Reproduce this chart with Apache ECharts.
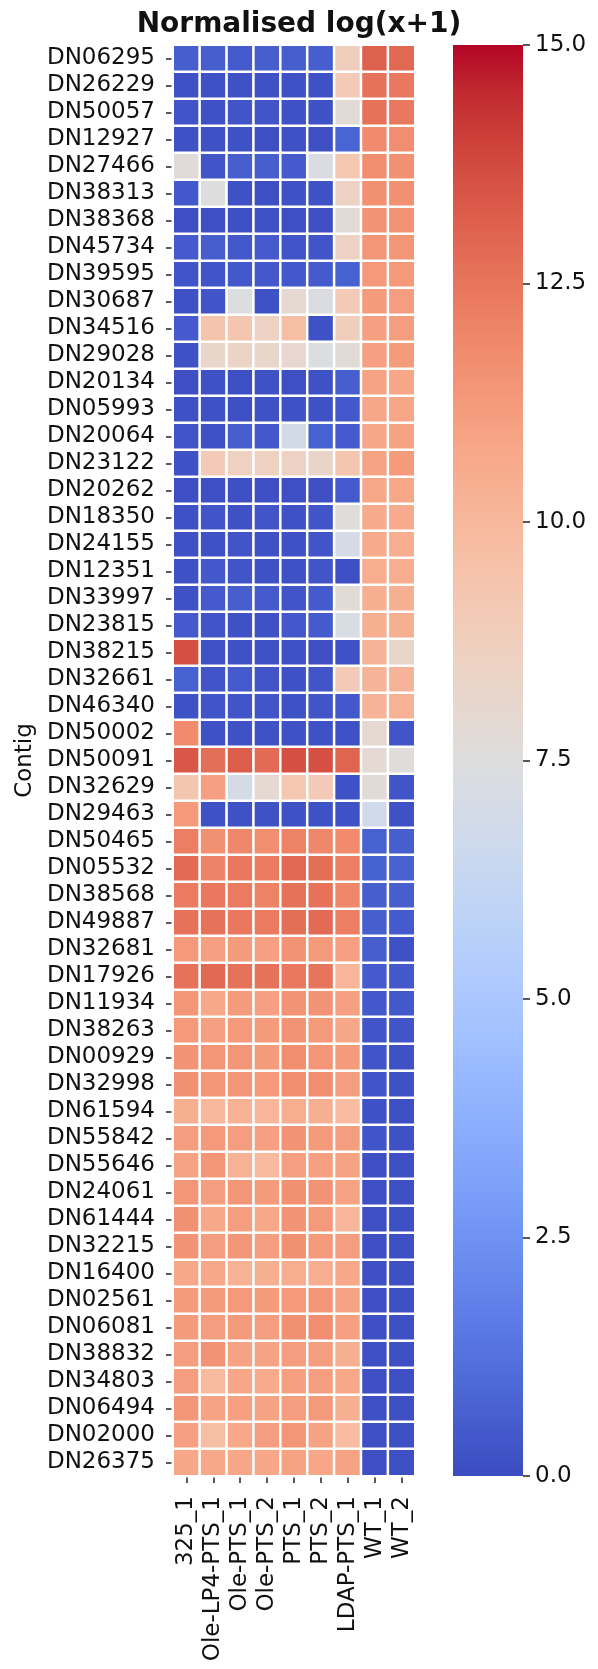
<!DOCTYPE html>
<html><head><meta charset="utf-8">
<script src="https://cdn.jsdelivr.net/npm/echarts@6/dist/echarts.min.js"></script>
<style>html,body{margin:0;padding:0;background:#fff}#chart{width:598px;height:1669px}</style>
</head><body><div id="chart"></div>
<script>
const samples = ['325_1','Ole-LP4-PTS_1','Ole-PTS_1','Ole-PTS_2','PTS_1','PTS_2','LDAP-PTS_1','WT_1','WT_2'];
const contigs = ['DN06295','DN26229','DN50057','DN12927','DN27466','DN38313','DN38368','DN45734','DN39595','DN30687',
 'DN34516','DN29028','DN20134','DN05993','DN20064','DN23122','DN20262','DN18350','DN24155','DN12351',
 'DN33997','DN23815','DN38215','DN32661','DN46340','DN50002','DN50091','DN32629','DN29463','DN50465',
 'DN05532','DN38568','DN49887','DN32681','DN17926','DN11934','DN38263','DN00929','DN32998','DN61594',
 'DN55842','DN55646','DN24061','DN61444','DN32215','DN16400','DN02561','DN06081','DN38832','DN34803',
 'DN06494','DN02000','DN26375'];
// one row per contig, one value per sample
const logExpr = [
 [0.6,0.6,0.5,0.6,0.6,0.6,8.8,13.1,12.9],
 [0.2,0.2,0.2,0.2,0.2,0.2,9.0,12.6,12.4],
 [0.3,0.2,0.3,0.3,0.2,0.2,7.8,12.6,12.4],
 [0.2,0.2,0.2,0.1,0.2,0.1,0.8,11.8,11.7],
 [7.7,0.3,0.6,0.6,0.5,7.3,9.2,11.7,11.6],
 [0.4,7.5,0.2,0.1,0.2,0.2,8.5,11.6,11.6],
 [0.1,0.1,0.1,0.2,0.1,0.1,7.8,11.5,11.5],
 [0.5,0.6,0.4,0.5,0.3,0.3,8.5,11.4,11.4],
 [0.3,0.3,0.4,0.4,0.4,0.5,0.7,11.3,11.3],
 [0.2,0.3,7.4,0.2,8.0,7.3,9.0,11.2,11.1],
 [0.5,9.4,9.3,8.5,9.7,0.2,8.8,11.0,11.1],
 [0.2,8.2,8.4,8.2,8.1,7.4,7.8,11.0,11.2],
 [0.1,0.2,0.1,0.2,0.1,0.2,0.6,10.9,10.8],
 [0.2,0.2,0.1,0.2,0.2,0.2,0.4,10.8,10.8],
 [0.3,0.2,0.6,0.4,6.9,0.7,0.5,10.8,10.9],
 [0.2,9.0,8.6,8.6,8.5,8.3,9.3,10.9,11.2],
 [0.1,0.1,0.1,0.1,0.1,0.1,0.5,10.7,10.7],
 [0.2,0.3,0.2,0.3,0.2,0.3,7.6,10.6,10.6],
 [0.2,0.2,0.3,0.2,0.2,0.3,7.0,10.6,10.5],
 [0.2,0.4,0.3,0.2,0.2,0.3,0.1,10.5,10.5],
 [0.2,0.5,0.6,0.5,0.3,0.5,7.8,10.4,10.4],
 [0.5,0.3,0.2,0.2,0.4,0.5,7.2,10.4,10.4],
 [13.6,0.2,0.2,0.2,0.2,0.1,0.2,10.2,8.2],
 [0.7,0.3,0.5,0.3,0.2,0.3,9.0,10.2,10.2],
 [0.2,0.3,0.3,0.3,0.2,0.3,0.4,10.2,10.3],
 [11.8,0.2,0.2,0.2,0.2,0.2,0.2,8.0,0.3],
 [13.4,12.7,13.2,12.8,13.6,13.6,13.0,7.9,7.6],
 [9.3,11.0,7.0,8.0,9.2,9.0,0.2,7.8,0.3],
 [11.3,0.2,0.2,0.2,0.2,0.2,0.2,6.8,0.2],
 [12.2,11.6,11.9,11.7,12.1,11.9,11.8,0.7,0.6],
 [12.8,12.1,12.4,12.3,12.9,12.7,12.2,0.7,0.7],
 [12.3,12.4,12.3,12.1,12.6,12.6,11.9,0.6,0.6],
 [12.6,12.6,12.4,12.3,12.7,12.8,12.2,0.6,0.5],
 [11.3,11.0,11.2,11.0,11.5,11.3,11.0,0.6,0.2],
 [12.6,12.9,12.6,12.6,12.4,12.5,10.1,0.5,0.4],
 [11.4,10.7,11.2,11.0,11.5,11.5,11.0,0.4,0.4],
 [11.3,11.0,11.3,11.2,11.5,11.3,10.8,0.3,0.3],
 [11.5,11.4,11.4,11.2,11.7,11.4,11.2,0.3,0.2],
 [11.6,11.4,11.4,11.3,11.7,11.7,11.1,0.3,0.2],
 [10.4,10.0,10.3,10.1,10.5,10.4,9.8,0.2,0.1],
 [11.1,11.3,11.1,11.0,11.5,11.2,11.1,0.3,0.2],
 [10.9,11.4,10.3,9.9,11.0,11.0,10.9,0.1,0.1],
 [11.4,11.1,11.4,11.2,11.6,11.5,10.9,0.1,0.1],
 [11.6,10.7,11.1,10.7,11.5,11.3,10.1,0.1,0.1],
 [11.5,11.1,11.4,11.1,11.6,11.3,11.1,0.1,0.1],
 [10.7,10.7,10.3,10.4,10.5,10.5,10.7,0.1,0.1],
 [11.2,11.2,11.3,11.2,11.3,11.4,10.9,0.1,0.1],
 [11.2,11.1,11.2,11.1,11.6,11.7,11.0,0.1,0.1],
 [11.1,11.5,10.9,10.9,11.1,11.1,10.4,0.1,0.1],
 [11.1,9.9,10.8,10.6,11.0,11.1,10.7,0.1,0.1],
 [11.4,10.9,11.0,10.9,11.1,11.3,10.4,0.1,0.1],
 [11.0,9.7,10.7,11.1,11.4,10.9,9.8,0.1,0.1],
 [10.8,10.7,10.8,10.8,10.9,10.8,10.9,0.1,0.1]
];
const colorMin = 0, colorMax = 15, colorStep = 2.5;
// matplotlib "coolwarm" (Moreland) stops, low -> high
const coolwarm = ['#3b4cc0','#445acc','#4d68d7','#5775e1','#6282ea','#6c8ef1','#779af7','#82a5fb','#8db0fe','#98b9ff','#a3c2ff','#aec9fd','#b8d0f9','#c2d5f4','#ccd9ee','#d5dbe6','#dddddd','#e5d8d1','#ecd3c5','#f1ccb9','#f5c4ad','#f7bba0','#f7b194','#f7a687','#f49a7b','#f18d6f','#ec7f63','#e57058','#de604d','#d55042','#cb3e38','#c0282f','#b40426'];

const FONT = 'DejaVu Sans';
const data = [];
logExpr.forEach((row, i) => row.forEach((v, j) => data.push([j, i, v])));

// colorbar gradient (top = max)
const n = coolwarm.length - 1;
const cbStops = coolwarm.map((c, k) => ({offset: 1 - k / n, color: c}));
const cbGradient = new echarts.graphic.LinearGradient(0, 0, 0, 1, cbStops.slice().reverse());

const chart = echarts.init(document.getElementById('chart'), null, {renderer: 'canvas'});
chart.setOption({
  animation: false,
  backgroundColor: '#fff',
  title: {
    text: 'Normalised log(x+1)', left: 294, top: 6, textAlign: 'center',
    textStyle: {fontFamily: FONT, fontSize: 28, fontWeight: 'bold', color: '#111'}
  },
  grid: [
    {left: 173, top: 45, width: 242, height: 1431},
    {left: 453, top: 45, width: 70, height: 1431}
  ],
  xAxis: [
    {type: 'category', data: samples, gridIndex: 0, position: 'bottom',
     axisLine: {show: false},
     axisTick: {show: true, alignWithLabel: true, length: 7, lineStyle: {color: '#222', width: 1.5}},
     axisLabel: {rotate: 90, interval: 0, fontFamily: FONT, fontSize: 23, color: '#111', margin: 20},
     splitLine: {show: false}},
    {type: 'category', gridIndex: 1, show: false, data: ['colorbar']}
  ],
  yAxis: [
    {type: 'category', data: contigs, gridIndex: 0, inverse: true,
     name: 'Contig', nameLocation: 'middle', nameRotate: 90, nameGap: 136,
     nameTextStyle: {fontFamily: FONT, fontSize: 23, color: '#111'},
     axisLine: {show: false},
     axisTick: {show: true, alignWithLabel: true, length: 7, lineStyle: {color: '#222', width: 1.5}},
     axisLabel: {interval: 0, fontFamily: FONT, fontSize: 23, color: '#111', margin: 18},
     splitLine: {show: false}},
    {type: 'value', gridIndex: 1, position: 'right', min: colorMin, max: colorMax, interval: colorStep,
     axisLine: {show: false},
     axisTick: {show: true, length: 7, lineStyle: {color: '#222', width: 1.5}},
     axisLabel: {fontFamily: FONT, fontSize: 23, color: '#111', margin: 12, formatter: v => v.toFixed(1)},
     splitLine: {show: false}}
  ],
  visualMap: {
    type: 'continuous', show: false, min: colorMin, max: colorMax, seriesIndex: 0,
    inRange: {color: coolwarm}
  },
  series: [{
    type: 'heatmap', xAxisIndex: 0, yAxisIndex: 0, data: data,
    itemStyle: {borderColor: '#fff', borderWidth: 2.5},
    emphasis: {disabled: true}
  }, {
    type: 'bar', xAxisIndex: 1, yAxisIndex: 1, data: [colorMax],
    barWidth: '100%', silent: true,
    itemStyle: {color: cbGradient}
  }]
});
</script></body></html>
